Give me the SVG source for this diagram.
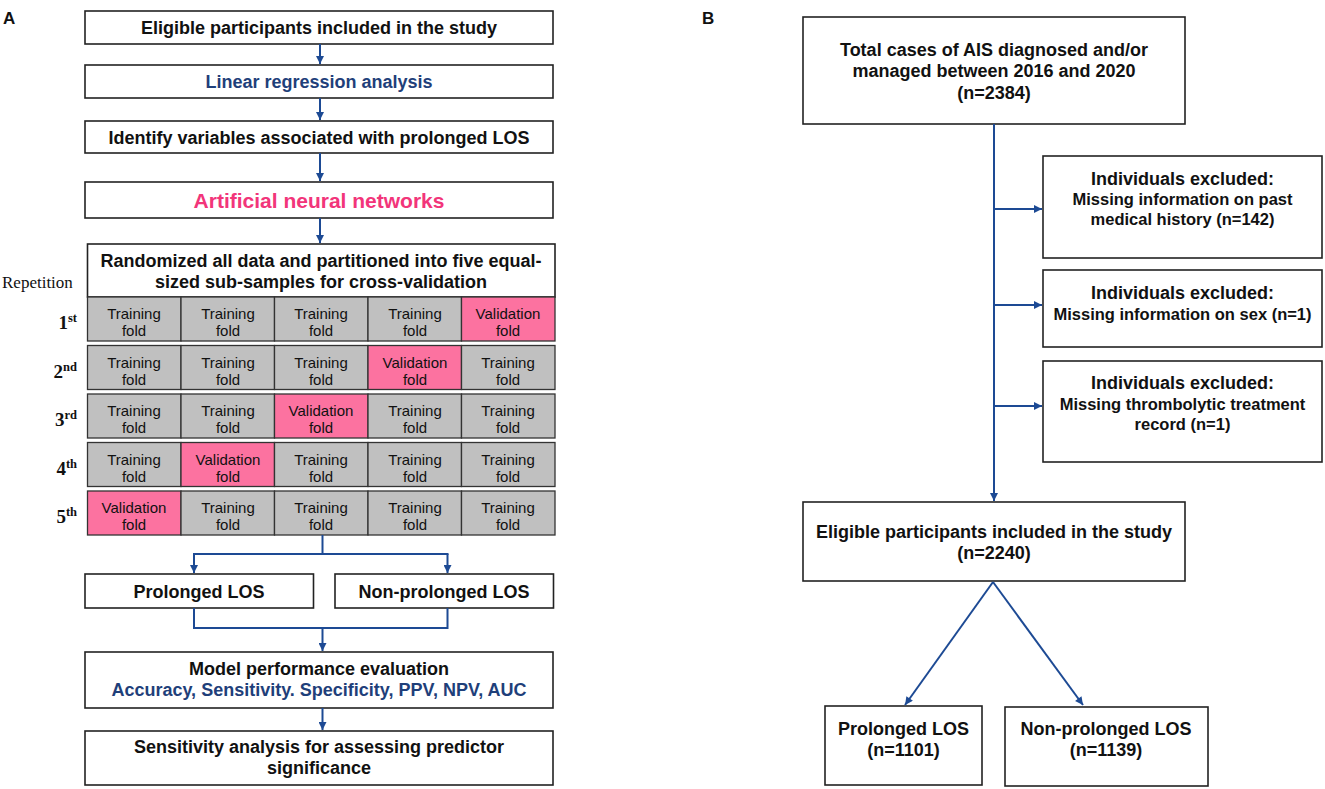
<svg xmlns="http://www.w3.org/2000/svg" width="1325" height="789" viewBox="0 0 1325 789">
<defs>
<marker id="ah" viewBox="0 0 10 10" refX="10" refY="5" markerWidth="9" markerHeight="8" markerUnits="userSpaceOnUse" orient="auto">
<path d="M0,0 L10,5 L0,10 z" fill="#1D4A94"/>
</marker>
<style>
.box{fill:#fff;stroke:#222;stroke-width:1.6}
.t{font-family:"Liberation Sans",Arial,sans-serif;font-weight:bold;font-size:18px;fill:#111;text-anchor:middle}
.ts{font-family:"Liberation Sans",Arial,sans-serif;font-weight:bold;font-size:16.5px;fill:#111;text-anchor:middle}
.blue{fill:#1F3F7A}
.pink{fill:#F2357A}
.cell{stroke:#333;stroke-width:1.3}
.tr{fill:#C0C0C0}
.va{fill:#FC72A0}
.ct{font-family:"Liberation Sans",Arial,sans-serif;font-size:15px;fill:#111;text-anchor:middle}
.rl{font-family:"Liberation Serif","Times New Roman",serif;font-weight:bold;font-size:19px;fill:#111;text-anchor:end}
.lab{font-family:"Liberation Sans",Arial,sans-serif;font-weight:bold;font-size:17px;fill:#111}
.c{fill:none;stroke:#1D4A94;stroke-width:2}
</style>
</defs>
<rect width="1325" height="789" fill="#fff"/>

<text class="lab" x="3" y="24">A</text>
<text class="lab" x="702" y="24">B</text>

<g id="a1"><rect class="box" x="85" y="11" width="468" height="33"/><text class="t" x="319" y="34">Eligible participants included in the study</text></g>
<g id="a2"><rect class="box" x="85" y="65" width="468" height="33"/><text class="t blue" x="319" y="88">Linear regression analysis</text></g>
<g id="a3"><rect class="box" x="85" y="121" width="468" height="32"/><text class="t" x="319" y="144">Identify variables associated with prolonged LOS</text></g>
<g id="a4"><rect class="box" x="85" y="182" width="468" height="36"/><text class="t pink" x="319" y="208" style="font-size:21px">Artificial neural networks</text></g>
<g id="a5"><rect class="box" x="87.5" y="244" width="467.5" height="53"/><text class="t" x="321" y="267">Randomized all data and partitioned into five equal-</text><text class="t" x="321" y="288">sized sub-samples for cross-validation</text></g>
<text x="2" y="288" style="font-family:'Liberation Serif','Times New Roman',serif;font-size:17px;fill:#111">Repetition</text>

<g id="grid">
<g id="row1">
<rect class="cell tr" x="87.5" y="297" width="93.5" height="44"/><rect class="cell tr" x="181" y="297" width="93.5" height="44"/><rect class="cell tr" x="274.5" y="297" width="93.5" height="44"/><rect class="cell tr" x="368" y="297" width="93.5" height="44"/><rect class="cell va" x="461.5" y="297" width="93.5" height="44"/>
<text class="ct" x="134" y="319">Training</text><text class="ct" x="134" y="336">fold</text>
<text class="ct" x="228" y="319">Training</text><text class="ct" x="228" y="336">fold</text>
<text class="ct" x="321" y="319">Training</text><text class="ct" x="321" y="336">fold</text>
<text class="ct" x="415" y="319">Training</text><text class="ct" x="415" y="336">fold</text>
<text class="ct" x="508" y="319">Validation</text><text class="ct" x="508" y="336">fold</text>
<text class="rl" x="77" y="329">1<tspan font-size="12.5" dy="-7">st</tspan></text>
</g>
<g id="row2">
<rect class="cell tr" x="87.5" y="345.5" width="93.5" height="44"/><rect class="cell tr" x="181" y="345.5" width="93.5" height="44"/><rect class="cell tr" x="274.5" y="345.5" width="93.5" height="44"/><rect class="cell va" x="368" y="345.5" width="93.5" height="44"/><rect class="cell tr" x="461.5" y="345.5" width="93.5" height="44"/>
<text class="ct" x="134" y="367.5">Training</text><text class="ct" x="134" y="384.5">fold</text>
<text class="ct" x="228" y="367.5">Training</text><text class="ct" x="228" y="384.5">fold</text>
<text class="ct" x="321" y="367.5">Training</text><text class="ct" x="321" y="384.5">fold</text>
<text class="ct" x="415" y="367.5">Validation</text><text class="ct" x="415" y="384.5">fold</text>
<text class="ct" x="508" y="367.5">Training</text><text class="ct" x="508" y="384.5">fold</text>
<text class="rl" x="77" y="377.5">2<tspan font-size="12.5" dy="-7">nd</tspan></text>
</g>
<g id="row3">
<rect class="cell tr" x="87.5" y="394" width="93.5" height="44"/><rect class="cell tr" x="181" y="394" width="93.5" height="44"/><rect class="cell va" x="274.5" y="394" width="93.5" height="44"/><rect class="cell tr" x="368" y="394" width="93.5" height="44"/><rect class="cell tr" x="461.5" y="394" width="93.5" height="44"/>
<text class="ct" x="134" y="416">Training</text><text class="ct" x="134" y="433">fold</text>
<text class="ct" x="228" y="416">Training</text><text class="ct" x="228" y="433">fold</text>
<text class="ct" x="321" y="416">Validation</text><text class="ct" x="321" y="433">fold</text>
<text class="ct" x="415" y="416">Training</text><text class="ct" x="415" y="433">fold</text>
<text class="ct" x="508" y="416">Training</text><text class="ct" x="508" y="433">fold</text>
<text class="rl" x="77" y="426">3<tspan font-size="12.5" dy="-7">rd</tspan></text>
</g>
<g id="row4">
<rect class="cell tr" x="87.5" y="442.5" width="93.5" height="44"/><rect class="cell va" x="181" y="442.5" width="93.5" height="44"/><rect class="cell tr" x="274.5" y="442.5" width="93.5" height="44"/><rect class="cell tr" x="368" y="442.5" width="93.5" height="44"/><rect class="cell tr" x="461.5" y="442.5" width="93.5" height="44"/>
<text class="ct" x="134" y="464.5">Training</text><text class="ct" x="134" y="481.5">fold</text>
<text class="ct" x="228" y="464.5">Validation</text><text class="ct" x="228" y="481.5">fold</text>
<text class="ct" x="321" y="464.5">Training</text><text class="ct" x="321" y="481.5">fold</text>
<text class="ct" x="415" y="464.5">Training</text><text class="ct" x="415" y="481.5">fold</text>
<text class="ct" x="508" y="464.5">Training</text><text class="ct" x="508" y="481.5">fold</text>
<text class="rl" x="77" y="474.5">4<tspan font-size="12.5" dy="-7">th</tspan></text>
</g>
<g id="row5">
<rect class="cell va" x="87.5" y="491" width="93.5" height="44"/><rect class="cell tr" x="181" y="491" width="93.5" height="44"/><rect class="cell tr" x="274.5" y="491" width="93.5" height="44"/><rect class="cell tr" x="368" y="491" width="93.5" height="44"/><rect class="cell tr" x="461.5" y="491" width="93.5" height="44"/>
<text class="ct" x="134" y="513">Validation</text><text class="ct" x="134" y="530">fold</text>
<text class="ct" x="228" y="513">Training</text><text class="ct" x="228" y="530">fold</text>
<text class="ct" x="321" y="513">Training</text><text class="ct" x="321" y="530">fold</text>
<text class="ct" x="415" y="513">Training</text><text class="ct" x="415" y="530">fold</text>
<text class="ct" x="508" y="513">Training</text><text class="ct" x="508" y="530">fold</text>
<text class="rl" x="77" y="523">5<tspan font-size="12.5" dy="-7">th</tspan></text>
</g>
</g>

<g id="a6"><rect class="box" x="85" y="574" width="228.5" height="34"/><text class="t" x="199" y="598">Prolonged LOS</text></g>
<g id="a7"><rect class="box" x="335" y="574" width="218.5" height="34"/><text class="t" x="444" y="598">Non-prolonged LOS</text></g>
<g id="a8"><rect class="box" x="85" y="652" width="468" height="56"/><text class="t" x="319" y="675">Model performance evaluation</text><text class="t blue" x="319" y="696">Accuracy, Sensitivity. Specificity, PPV, NPV, AUC</text></g>
<g id="a9"><rect class="box" x="85" y="731" width="468" height="54"/><text class="t" x="319" y="753">Sensitivity analysis for assessing predictor</text><text class="t" x="319" y="774">significance</text></g>

<g id="b1"><rect class="box" x="803" y="17" width="382" height="107"/><text class="t" x="994" y="56">Total cases of AIS diagnosed and/or</text><text class="t" x="994" y="77">managed between 2016 and 2020</text><text class="t" x="994" y="99">(n=2384)</text></g>
<g id="b2"><rect class="box" x="1043" y="156" width="279" height="102"/><text class="t" x="1182.5" y="185">Individuals excluded:</text><text class="ts" x="1182.5" y="205">Missing information on past</text><text class="ts" x="1182.5" y="225">medical history (n=142)</text></g>
<g id="b3"><rect class="box" x="1043" y="270" width="279" height="77"/><text class="t" x="1182.5" y="299">Individuals excluded:</text><text class="ts" x="1182.5" y="320">Missing information on sex (n=1)</text></g>
<g id="b4"><rect class="box" x="1043" y="361" width="279" height="101"/><text class="t" x="1182.5" y="389">Individuals excluded:</text><text class="ts" x="1182.5" y="410">Missing thrombolytic treatment</text><text class="ts" x="1182.5" y="430">record (n=1)</text></g>
<g id="b5"><rect class="box" x="803" y="502" width="382" height="79"/><text class="t" x="994" y="538">Eligible participants included in the study</text><text class="t" x="994" y="559">(n=2240)</text></g>
<g id="b6"><rect class="box" x="825" y="706" width="157" height="79"/><text class="t" x="903.5" y="735">Prolonged LOS</text><text class="t" x="903.5" y="756">(n=1101)</text></g>
<g id="b7"><rect class="box" x="1005" y="707" width="203" height="79"/><text class="t" x="1106" y="735">Non-prolonged LOS</text><text class="t" x="1106" y="756">(n=1139)</text></g>

<g id="connectors">
<line class="c" x1="320" y1="44" x2="320" y2="64" marker-end="url(#ah)"/>
<line class="c" x1="320" y1="98" x2="320" y2="120" marker-end="url(#ah)"/>
<line class="c" x1="320" y1="153" x2="320" y2="181" marker-end="url(#ah)"/>
<line class="c" x1="320" y1="218" x2="320" y2="243" marker-end="url(#ah)"/>
<line class="c" x1="322.5" y1="535" x2="322.5" y2="554"/>
<line class="c" x1="193" y1="554" x2="448.5" y2="554"/>
<line class="c" x1="194" y1="554" x2="194" y2="573" marker-end="url(#ah)"/>
<line class="c" x1="447.5" y1="554" x2="447.5" y2="573" marker-end="url(#ah)"/>
<polyline class="c" points="194,608 194,628 447.5,628 447.5,608"/>
<line class="c" x1="322.5" y1="628" x2="322.5" y2="651" marker-end="url(#ah)"/>
<line class="c" x1="322.5" y1="708" x2="322.5" y2="730" marker-end="url(#ah)"/>
<line class="c" x1="994" y1="124" x2="994" y2="501" marker-end="url(#ah)"/>
<line class="c" x1="994" y1="209" x2="1042" y2="209" marker-end="url(#ah)"/>
<line class="c" x1="994" y1="305" x2="1042" y2="305" marker-end="url(#ah)"/>
<line class="c" x1="994" y1="406" x2="1042" y2="406" marker-end="url(#ah)"/>
<line class="c" x1="993" y1="582" x2="905" y2="705" marker-end="url(#ah)"/>
<line class="c" x1="993" y1="582" x2="1083" y2="705" marker-end="url(#ah)"/>
</g>
</svg>
